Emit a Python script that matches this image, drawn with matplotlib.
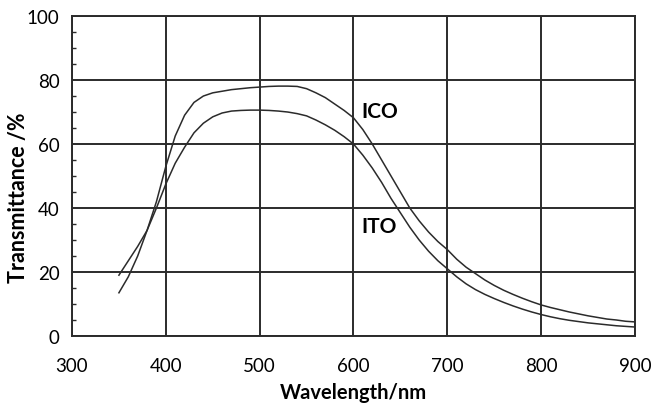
import matplotlib
matplotlib.use("Agg")
from matplotlib import pyplot as plt
from matplotlib.ticker import MultipleLocator

# wavelength grid, nm
wavelength = [350, 360, 370, 380, 390, 400, 410, 420, 430, 440,
              450, 460, 470, 480, 490, 500, 510, 520, 530, 540,
              550, 560, 570, 580, 590, 600, 610, 620, 630, 640,
              650, 660, 670, 680, 690, 700, 710, 720, 730, 740,
              750, 760, 770, 780, 790, 800, 810, 820, 830, 840,
              850, 860, 870, 880, 890, 900]

ico = [13.5, 18.5, 25, 33, 42, 53, 62.5, 69, 73, 75,
       76, 76.5, 77, 77.3, 77.6, 77.8, 78, 78.1, 78.1, 78,
       77.3, 76, 74.5, 72.5, 70.5, 68.2, 64.5, 60, 55, 50,
       45, 40, 36, 32.5, 29.5, 27, 24, 21.5, 19.5, 17.5,
       15.8, 14.3, 13, 11.8, 10.7, 9.7, 8.9, 8.2, 7.5, 6.9,
       6.3, 5.8, 5.3, 5, 4.6, 4.4]

ito = [19, 23.5, 28, 33, 40, 47.5, 54, 59, 63.5, 66.5,
       68.5, 69.7, 70.3, 70.5, 70.6, 70.6, 70.5, 70.3, 70, 69.5,
       68.8, 67.5, 66, 64.3, 62.3, 60, 56.5, 52.5, 48, 43,
       38.5, 34, 30, 26.5, 23.5, 21, 18.5, 16.3, 14.5, 13,
       11.7, 10.5, 9.4, 8.4, 7.5, 6.7, 6, 5.4, 4.9, 4.5,
       4.1, 3.8, 3.5, 3.2, 3, 2.8]

x_ticks = [300, 400, 500, 600, 700, 800, 900]
y_ticks = [0, 20, 40, 60, 80, 100]

plt.rcParams['font.family'] = ['Lato', 'DejaVu Sans']

fig = plt.figure(figsize=(6.51, 4.06), dpi=100)
ax = fig.add_axes([0.1106, 0.170, 0.8648, 0.788])

ink = '#2b2b2b'
ax.plot(wavelength, ico, color=ink, linewidth=1.1)
ax.plot(wavelength, ito, color=ink, linewidth=1.1)

ax.set_xlim(300, 900)
ax.set_ylim(0, 100)
ax.set_xticks(x_ticks)
ax.set_yticks(y_ticks)
ax.yaxis.set_minor_locator(MultipleLocator(5))
ax.grid(True, which='major', color=ink, linewidth=1.4)
ax.tick_params(axis='both', which='major', length=0, labelsize=13.5, colors='black')
ax.tick_params(axis='x', which='major', pad=15)
ax.tick_params(axis='y', which='major', pad=9)
ax.tick_params(axis='y', which='minor', direction='in', length=3, width=1, color=ink)
for s in ax.spines.values():
    s.set_color(ink)
    s.set_linewidth(1.4)

ax.set_xlabel('Wavelength/nm', fontsize=14.5, fontweight='bold', labelpad=6)
ax.set_ylabel('Transmittance /%', fontsize=15.5, fontweight='bold')
ax.yaxis.set_label_coords(-0.076, 0.435)

ax.text(608, 70.3, 'ICO', fontsize=15, fontweight='bold', va='center', ha='left')
ax.text(608, 34.4, 'ITO', fontsize=15, fontweight='bold', va='center', ha='left')

fig.savefig('out.png', dpi=100)
